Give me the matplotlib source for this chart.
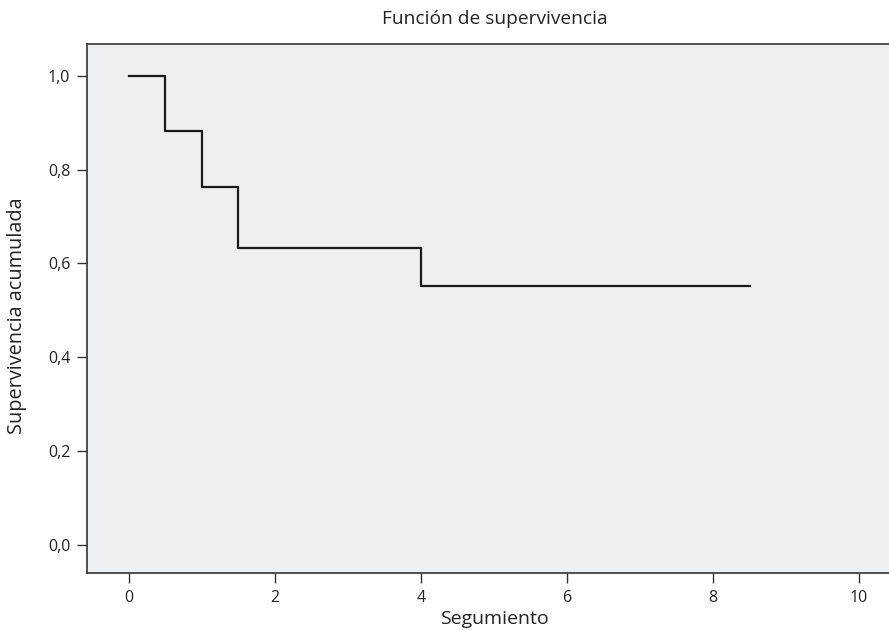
"""curva de supervivencia (Kaplan-Meier) en escalera"""
import matplotlib
matplotlib.use('Agg')
import matplotlib.pyplot as plt

plt.rcParams['font.family'] = ['Open Sans', 'DejaVu Sans']

# datos
tiempos = [0, 0.5, 1.0, 1.5, 4.0, 8.5]
supervivencia = [1.0, 0.882, 0.764, 0.632, 0.552, 0.552]
xticks = [0, 2, 4, 6, 8, 10]
yticks = [0.0, 0.2, 0.4, 0.6, 0.8, 1.0]
ytick_labels = ['0,0', '0,2', '0,4', '0,6', '0,8', '1,0']

fig = plt.figure(figsize=(8.89, 6.3), dpi=100)
ax = fig.add_axes([87 / 889, 1 - 573 / 630, 1 - 87 / 889, (573 - 44) / 630])
ax.set_facecolor('#eeeff1')

ax.step(tiempos, supervivencia, where='post', color='#1a1a1a', lw=1.6)

ax.set_xlim(-0.575, 10.41)
ax.set_ylim(-0.06, 1.068)
ax.set_xticks(xticks)
ax.set_xticklabels([str(t) for t in xticks])
ax.set_yticks(yticks)
ax.set_yticklabels(ytick_labels)
ax.tick_params(direction='out', length=7, width=1, color='#333333',
               labelsize=11.5, labelcolor='#222222', pad=5)

ax.spines['right'].set_visible(False)
for s in ['top', 'left', 'bottom']:
    ax.spines[s].set_color('#333333')
    ax.spines[s].set_linewidth(1.2)

fig.text(495 / 889, 1 - 19 / 630, 'Función de supervivencia', ha='center',
         va='center', fontsize=13.8, color='#222222')
fig.text(494 / 889, 1 - 619 / 630, 'Segumiento', ha='center', va='center',
         fontsize=14, color='#222222')
fig.text(17 / 889, 1 - 316 / 630, 'Supervivencia acumulada', ha='center',
         va='center', rotation=90, fontsize=14.3, color='#222222')

fig.savefig('out.png', dpi=100)
